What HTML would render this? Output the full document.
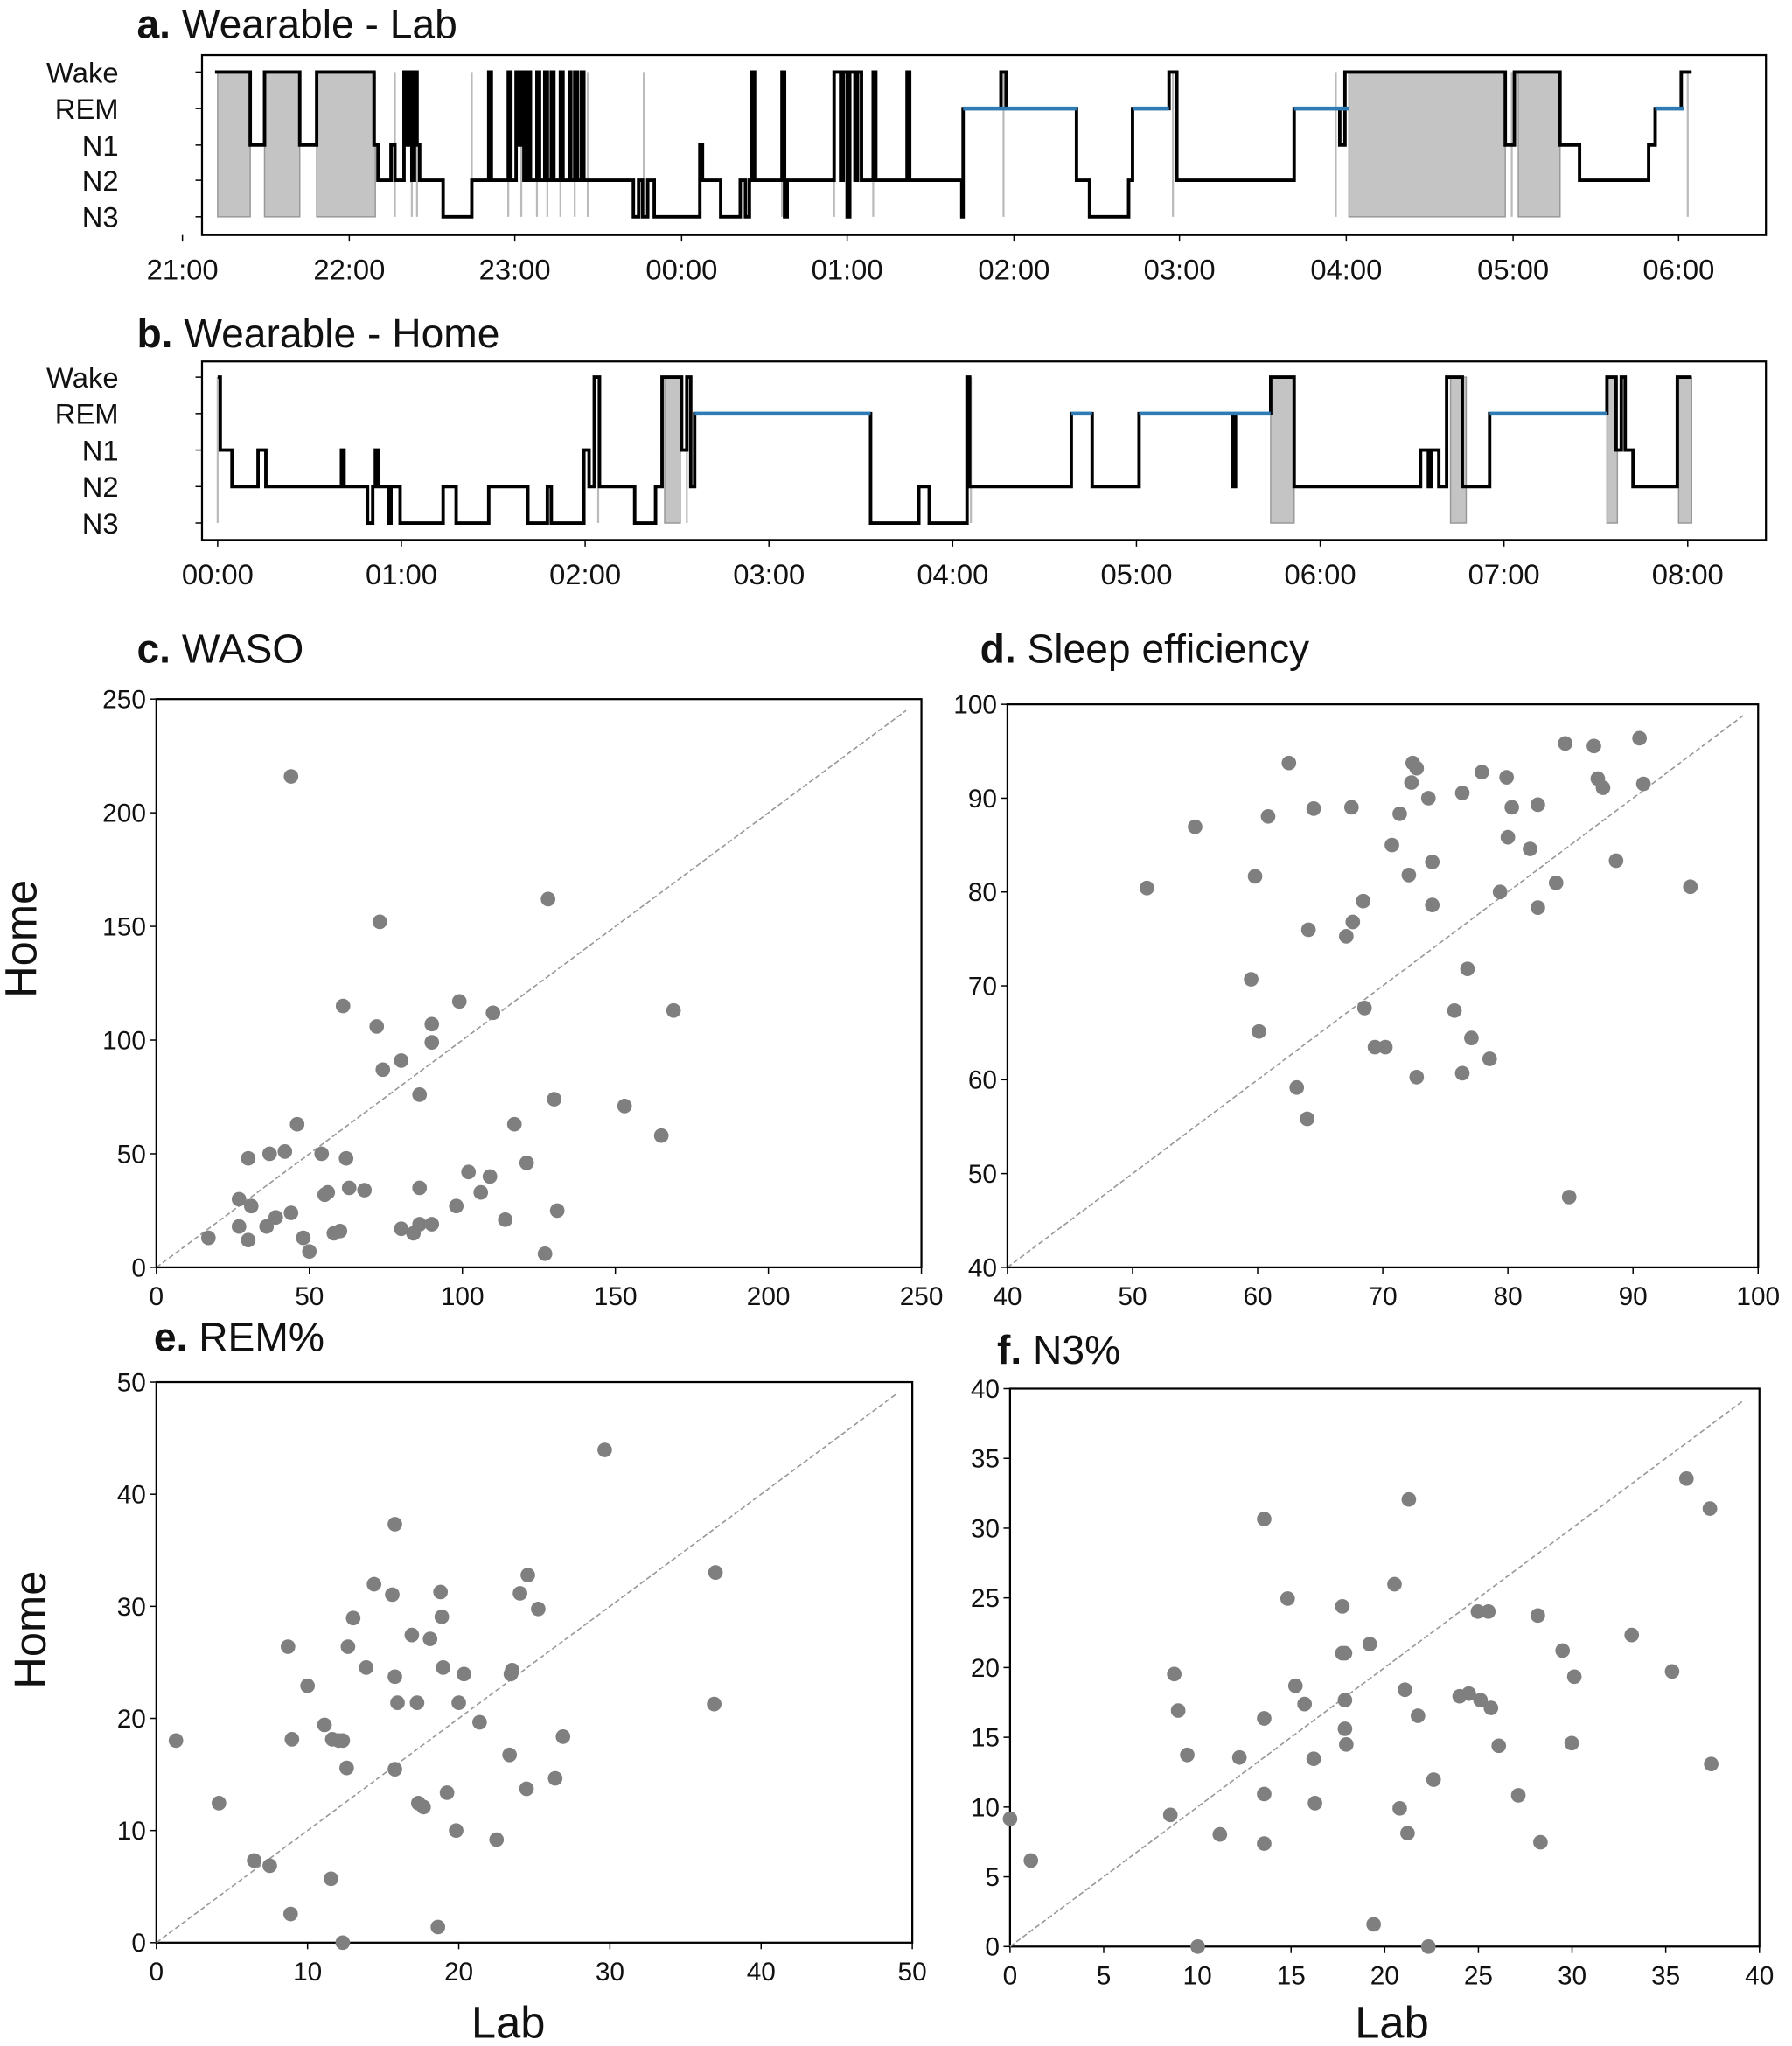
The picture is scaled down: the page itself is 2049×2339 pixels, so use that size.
<!DOCTYPE html>
<html><head><meta charset="utf-8"><style>
html,body{margin:0;padding:0;background:#fff;}
svg{display:block;}
text{font-family:"Liberation Sans","DejaVu Sans",sans-serif;fill:#111;}
</style></head><body>
<svg id="s" width="2049" height="2339" viewBox="0 0 1375 1569" xmlns="http://www.w3.org/2000/svg"></svg>
<script>
const S=document.getElementById('s');let h='';
function T(x,y,t,sz,anc,extra){h+=`<text x="${x}" y="${y}" font-size="${sz}" text-anchor="${anc||'start'}" ${extra||''}>${t}</text>`;}
function title(x,y,l,t){h+=`<text x="${x}" y="${y}" font-size="31"><tspan font-weight="bold">${l}</tspan> ${t}</text>`;}
function hyp(box,L,steps,end,blues,grays,lines,ticks){
 const [x0,y0,x1,y1]=box;
 h+=`<rect x="${x0}" y="${y0}" width="${x1-x0}" height="${y1-y0}" fill="none" stroke="#000" stroke-width="1.5"/>`;
 const names=['Wake','REM','N1','N2','N3'];
 names.forEach((n,i)=>{h+=`<line x1="${x0-5}" x2="${x0}" y1="${L[i]}" y2="${L[i]}" stroke="#000"/>`;T(x0-64,L[i]+8,n,22,'end');});
 ticks.forEach(([x,t])=>{h+=`<line x1="${x}" x2="${x}" y1="${y1}" y2="${y1+5}" stroke="#000"/>`;T(x,y1+34,t,22,'middle');});
 grays.forEach(([a,b])=>{h+=`<rect x="${a}" y="${L[0]}" width="${b-a}" height="${L[4]-L[0]}" fill="#c4c4c4" stroke="#999" stroke-width="1"/>`;});
 lines.forEach(x=>{h+=`<line x1="${x}" x2="${x}" y1="${L[0]}" y2="${L[4]}" stroke="#bbb" stroke-width="1.5"/>`;});
 let d='';steps.forEach(([x,l],i)=>{const y=L[l];if(i==0)d+=`M${x},${y}`;else d+=`V${y}`;const nx=i<steps.length-1?steps[i+1][0]:end;d+=`H${nx}`;});
 h+=`<path d="${d}" fill="none" stroke="#000" stroke-width="2.6"/>`;
 blues.forEach(([a,b])=>{h+=`<line x1="${a}" x2="${b}" y1="${L[1]}" y2="${L[1]}" stroke="#2f7bb5" stroke-width="3"/>`;});
}
const W=0,R=1,N1=2,N2=3,N3=4;
title(105,29,'a.','Wearable - Lab');
hyp([155,42,1355,180],[55,83,111,138,166],
[[165,W],[192,N1],[203,W],[230,N1],[243,W],[287,N1],[290,N2],[300,N1],[303,N2],[310,W],[312,N1],[314,W],[316,N2],[318,W],[320,N1],[322,N2],[340,N3],[362,N2],[375,W],[377,N2],[390,W],[392,N2],[396,W],[398,N1],[400,W],[402,N2],[405,W],[407,N2],[412,W],[414,N2],[418,W],[420,N2],[423,W],[425,N2],[430,W],[432,N2],[437,W],[438,N2],[441,W],[443,N2],[446,W],[448,N2],[486,N3],[490,N2],[493,N3],[497,N2],[502,N3],[537,N1],[539,N2],[553,N3],[568,N2],[572,N3],[575,N2],[577,W],[579,N2],[600,W],[602,N3],[604,N2],[640,W],[645,N2],[647,W],[650,N3],[652,W],[656,N2],[658,W],[661,N2],[670,W],[672,N2],[696,W],[698,N2],[738,N3],[739,R],[768,W],[772,R],[826,N2],[836,N3],[866,N2],[869,R],[897,W],[903,N2],[993,R],[1028,N1],[1032,W],[1155,N1],[1162,W],[1197,N1],[1212,N2],[1265,N1],[1270,R],[1290,W]],1298,
[[739,826],[869,897],[993,1035],[1270,1292]],
[[167,192],[203,230],[243,288],[1035,1155],[1165,1197]],
[303,316,320,362,390,400,412,420,430,441,451,494,600,640,652,670,770,900,1025,1160,1295],
[[140,'21:00'],[268,'22:00'],[395,'23:00'],[523,'00:00'],[650,'01:00'],[778,'02:00'],[905,'03:00'],[1033,'04:00'],[1161,'05:00'],[1288,'06:00']]);
title(105,266,'b.','Wearable - Home');
hyp([155,277,1355,414],[289,317,345,373,401],
[[167,W],[169,N1],[178,N2],[198,N1],[204,N2],[262,N1],[264,N2],[282,N3],[286,N2],[288,N1],[290,N2],[298,N3],[300,N2],[307,N3],[340,N2],[350,N3],[375,N2],[405,N3],[420,N2],[423,N3],[428,N3],[448,N1],[452,N2],[456,W],[460,N2],[487,N3],[503,N2],[508,W],[523,N1],[527,W],[530,N2],[533,R],[668,N3],[705,N2],[713,N3],[742,W],[744,N2],[822,R],[838,N2],[874,R],[946,N2],[948,R],[975,W],[993,N2],[1090,N1],[1096,N2],[1098,N1],[1104,N2],[1110,W],[1122,N2],[1143,R],[1233,W],[1240,N1],[1244,W],[1247,N1],[1253,N2],[1287,W]],1298,
[[533,668],[822,838],[874,975],[1143,1233]],
[[510,522],[975,993],[1113,1125],[1233,1241],[1288,1298]],
[167,459,527,745],
[[167,'00:00'],[308,'01:00'],[449,'02:00'],[590,'03:00'],[731,'04:00'],[872,'05:00'],[1013,'06:00'],[1154,'07:00'],[1295,'08:00']]);
function sc(box,min,max,step,pts,isData){
 const [x0,y0,x1,y1]=box;
 h+=`<rect x="${x0}" y="${y0}" width="${x1-x0}" height="${y1-y0}" fill="none" stroke="#000" stroke-width="1.5"/>`;
 const fx=v=>x0+(v-min)/(max-min)*(x1-x0), fy=v=>y1-(v-min)/(max-min)*(y1-y0);
 for(let v=min;v<=max+1e-9;v+=step){
  h+=`<line x1="${fx(v)}" x2="${fx(v)}" y1="${y1}" y2="${y1+5}" stroke="#000"/>`;T(fx(v),y1+29,v,20,'middle');
  h+=`<line x1="${x0-5}" x2="${x0}" y1="${fy(v)}" y2="${fy(v)}" stroke="#000"/>`;T(x0-8,fy(v)+7,v,20,'end');
 }
 const m=min+(max-min)*0.98;
 h+=`<line x1="${fx(min)}" y1="${fy(min)}" x2="${fx(m)}" y2="${fy(m)}" stroke="#999" stroke-width="1.1" stroke-dasharray="4,2"/>`;
 pts.forEach(([a,b])=>{const x=isData?fx(a):a,y=isData?fy(b):b;h+=`<circle cx="${x}" cy="${y}" r="5.6" fill="#7f7f7f"/>`;});
}
title(105,508,'c.','WASO');
sc([120,536,707,972],0,250,50,[[17,13],[27,30],[30,48],[27,18],[31,27],[30,12],[36,18],[37,50],[39,22],[42,51],[44,24],[46,63],[48,13],[50,7],[54,50],[55,32],[56,33],[58,15],[60,16],[61,115],[62,48],[63,35],[68,34],[72,106],[73,152],[74,87],[80,17],[80,91],[84,15],[86,76],[86,35],[86,19],[90,19],[90,99],[90,107],[98,27],[99,117],[102,42],[106,33],[109,40],[110,112],[114,21],[117,63],[121,46],[127,6],[128,162],[130,74],[131,25],[153,71],[165,58],[169,113],[44,216]],true);
title(752,508,'d.','Sleep efficiency');
sc([773,540,1349,972],40,100,10,[[880,681],[917,634],[960,751],[963,672],[966,791],[973,626],[989,585],[995,834],[1003,858],[1004,713],[1008,620],[1033,718],[1037,619],[1038,707],[1046,691],[1047,773],[1055,803],[1063,803],[1068,648],[1074,624],[1081,671],[1083,600],[1084,585],[1087,589],[1087,826],[1096,612],[1099,661],[1099,694],[1116,775],[1122,608],[1122,823],[1126,743],[1129,796],[1137,592],[1143,812],[1151,684],[1156,596],[1157,642],[1160,619],[1174,651],[1180,617],[1180,696],[1194,677],[1201,570],[1204,918],[1223,572],[1226,597],[1230,604],[1240,660],[1258,566],[1261,601],[1297,680]],false);
title(118,1036,'e.','REM%');
sc([120,1060,700,1490],0,50,10,[[135,1335],[168,1383],[195,1427],[207,1431],[223,1468],[221,1263],[224,1334],[236,1293],[249,1323],[255,1334],[254,1441],[260,1335],[263,1335],[266,1356],[263,1490],[271,1241],[267,1263],[281,1279],[287,1215],[301,1223],[303,1357],[303,1286],[305,1306],[303,1169],[316,1254],[320,1306],[321,1383],[325,1386],[330,1257],[336,1478],[338,1221],[339,1240],[340,1279],[343,1375],[350,1404],[352,1306],[356,1284],[368,1321],[381,1411],[391,1346],[392,1284],[393,1281],[399,1222],[404,1372],[405,1208],[413,1234],[426,1364],[432,1332],[464,1112],[548,1307],[549,1206]],false);
title(765,1046,'f.','N3%');
sc([775,1065,1350,1493],0,40,5,[[775,1395],[791,1427],[901,1284],[904,1312],[911,1346],[898,1392],[919,1493],[936,1407],[951,1348],[970,1318],[970,1376],[970,1414],[970,1165],[988,1226],[994,1293],[1001,1307],[1008,1349],[1009,1383],[1030,1232],[1030,1268],[1032,1268],[1032,1304],[1032,1326],[1033,1338],[1051,1261],[1054,1476],[1070,1215],[1074,1387],[1078,1296],[1080,1406],[1081,1150],[1088,1316],[1100,1365],[1120,1301],[1127,1299],[1134,1236],[1136,1304],[1142,1236],[1144,1310],[1150,1339],[1165,1377],[1180,1239],[1182,1413],[1199,1266],[1206,1337],[1208,1286],[1252,1254],[1283,1282],[1294,1134],[1312,1157],[1313,1353],[1096,1493]],false);
T(28,720,'Home',34,'middle','transform="rotate(-90 28 720)"');
T(35,1250,'Home',34,'middle','transform="rotate(-90 35 1250)"');
T(390,1563,'Lab',34,'middle');
T(1068,1563,'Lab',34,'middle');
S.innerHTML=h;
</script>
</body></html>
